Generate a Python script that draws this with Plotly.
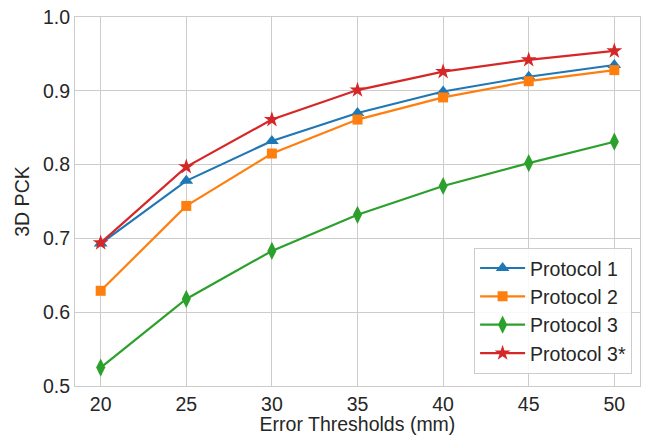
import plotly.graph_objects as go

thresholds = [20, 25, 30, 35, 40, 45, 50]
protocol1 = [0.693, 0.778, 0.832, 0.870, 0.899, 0.919, 0.935]
protocol2 = [0.629, 0.744, 0.815, 0.861, 0.891, 0.913, 0.928]
protocol3 = [0.525, 0.618, 0.683, 0.732, 0.771, 0.802, 0.831]
protocol3s = [0.694, 0.797, 0.861, 0.901, 0.926, 0.942, 0.954]
names = ["Protocol 1", "Protocol 2", "Protocol 3", "Protocol 3*"]
colors = ["#1f77b4", "#ff7f0e", "#2ca02c", "#d62728"]
symbols = ["triangle-up", "square", "diamond-tall", "star"]
sizes = [12, 10, 13, 12]

FONT = "Liberation Sans, Arial, sans-serif"
FS = 19.5

fig = go.Figure()
for i, ys in enumerate([protocol1, protocol2, protocol3, protocol3s]):
    fig.add_trace(go.Scatter(
        x=thresholds, y=ys, mode="lines+markers", name=names[i],
        legendgroup=names[i],
        line=dict(color=colors[i], width=2.2),
        marker=dict(symbol=symbols[i], size=sizes[i], color=colors[i],
                    line=dict(width=0)),
    ))

axis_common = dict(
    showgrid=True, gridcolor="#cccccc", gridwidth=1,
    showline=True, linecolor="#cccccc", linewidth=1.2, mirror=True,
    zeroline=False, ticks="", color="#262626",
    tickfont=dict(size=FS, family=FONT, color="#262626"),
)
fig.update_layout(
    width=646, height=435,
    margin=dict(l=75, r=6, t=17, b=49),
    paper_bgcolor="white", plot_bgcolor="white",
    font=dict(family=FONT, size=FS, color="#262626"),
    xaxis=dict(range=[18.5, 51.5], tickvals=thresholds,
               title=dict(text="Error Thresholds (mm)", font=dict(size=FS), standoff=1),
               **axis_common),
    yaxis=dict(range=[0.5, 1.0], tickvals=[0.5, 0.6, 0.7, 0.8, 0.9, 1.0],
               ticktext=["0.5", "0.6", "0.7", "0.8", "0.9", "1.0"],
               title=dict(text="3D PCK", font=dict(size=FS), standoff=8),
               **axis_common),
    legend=dict(x=0.986, y=0.033, xanchor="right", yanchor="bottom",
                bgcolor="rgba(255,255,255,0.85)", bordercolor="#cccccc", borderwidth=1,
                font=dict(size=FS, color="#262626"), tracegroupgap=0,
                itemwidth=45),
    showlegend=True,
)
fig.write_html("out.html", config={"displayModeBar": False},
               post_script="document.body.style.margin='0';document.body.style.padding='0';")
